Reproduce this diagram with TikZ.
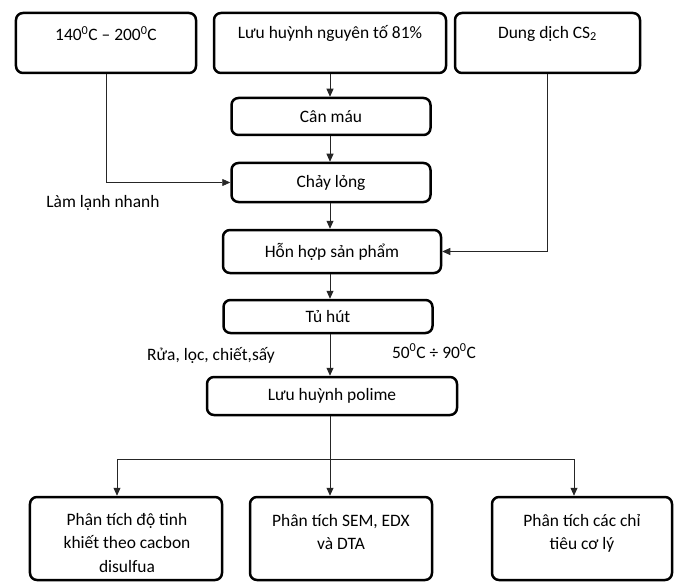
\documentclass[tikz,border=0pt]{standalone}
\usepackage{fontspec}
\setmainfont{Carlito}
\usetikzlibrary{arrows.meta,calc}
\begin{document}
\begin{tikzpicture}[x=1bp,y=-1bp,
  box/.style={draw, line width=2.5bp, rounded corners=7bp, inner sep=0pt, anchor=center},
  txt/.style={font=\fontsize{17.5}{23.5}\selectfont, inner sep=0pt, align=center},
  conn/.style={draw=black!85, line width=0.8bp, -{Triangle[length=8bp,width=7bp]}},
  link/.style={draw=black!85, line width=0.8bp}]
\useasboundingbox (0,0) rectangle (680,582);
% top row
\node[box, minimum width=180bp, minimum height=60bp] (A) at (106,43) {};
\node[box, minimum width=232bp, minimum height=60bp] (B) at (330,43) {};
\node[box, minimum width=185bp, minimum height=60bp] (C) at (547.5,43) {};
\node[txt] (tA) at ($(A.north)+(0,22)$) {140\textsuperscript{0}C – 200\textsuperscript{0}C};
\node[txt] (tB) at ($(B.north)+(0,22)$) {Lưu huỳnh nguyên tố 81\%};
\node[txt] (tC) at ($(C.north)+(0,22)$) {Dung dịch CS\textsubscript{2}};
% main column
\node[box, txt, minimum width=199bp, minimum height=37bp] (can) at (331,116.5) {Cân máu};
\node[box, txt, minimum width=199bp, minimum height=39bp] (chay) at (331,182.5) {Chảy lỏng};
\node[box, txt, minimum width=218bp, minimum height=43bp] (hon) at (332,251.5) {Hỗn hợp sản phẩm};
\node[box, txt, minimum width=209bp, minimum height=33bp] (tu) at (328,316.5) {Tủ hút};
\node[box, txt, minimum width=250bp, minimum height=38bp] (poli) at (332,396) {Lưu huỳnh polime};
% bottom row
\node[box, minimum width=192bp, minimum height=83bp] (b1) at (126,538.5) {};
\node[box, minimum width=182bp, minimum height=83bp] (b2) at (341,538.5) {};
\node[box, minimum width=180bp, minimum height=83bp] (b3) at (582,538.5) {};
\node[txt] (t1) at (127,543) {Phân tích độ tinh\\khiết theo cacbon\\disulfua};
\node[txt] (t2) at (341,532) {Phân tích SEM, EDX\\và DTA};
\node[txt] (t3) at (582,533.5) {Phân tích các chỉ\\tiêu cơ lý};
% side labels
\node[txt] (lam) at (103,203) {Làm lạnh nhanh};
\node[txt] (rua) at (211,355) {Rửa, lọc, chiết,sấy};
\node[txt] (nhiet) at (434,351) {50\textsuperscript{0}C ÷ 90\textsuperscript{0}C};
% connectors
\coordinate (m1) at (330,0);
\draw[conn] (B.south -| m1) -- (can.north -| m1);
\draw[conn] (can.south -| m1) -- (chay.north -| m1);
\draw[conn] (chay.south -| m1) -- (hon.north -| m1);
\draw[conn] (hon.south -| m1) -- (tu.north -| m1);
\draw[conn] (tu.south -| m1) -- (poli.north -| m1);
\draw[conn] (A.south) |- (chay.west);
\draw[conn] (C.south) |- (hon.east);
\coordinate (jl) at (117,459);
\coordinate (jr) at (574,459);
\draw[link] (poli.south -| m1) -- (jl -| m1);
\draw[link] (jl) -- (jr);
\draw[conn] (poli.south -| m1) -- (b2.north -| m1);
\draw[conn] (jl) -- (jl |- b1.north);
\draw[conn] (jr) -- (jr |- b3.north);
\end{tikzpicture}
\end{document}
